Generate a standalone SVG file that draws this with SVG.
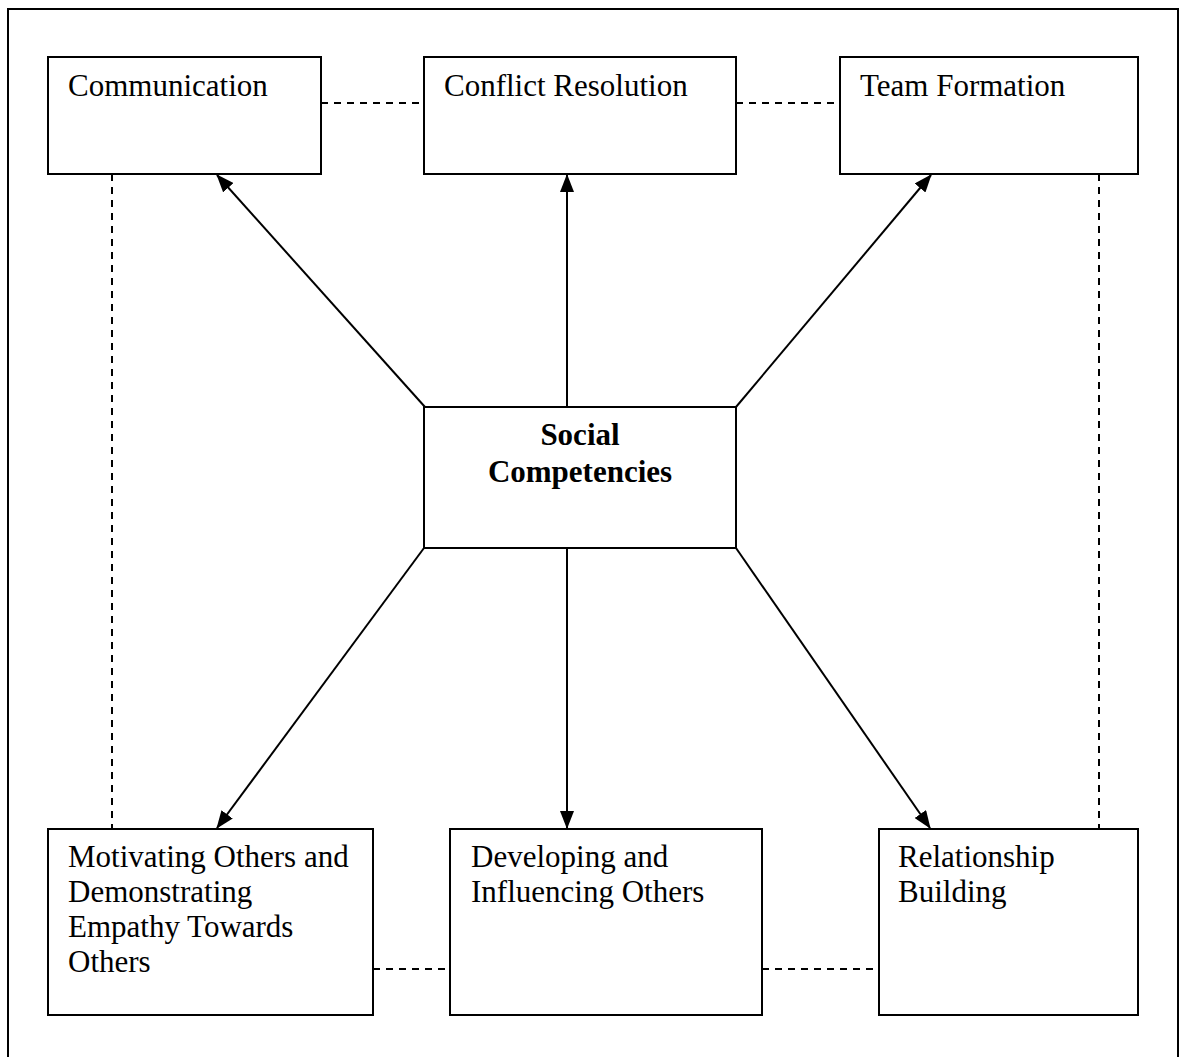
<svg xmlns="http://www.w3.org/2000/svg" width="1181" height="1057" viewBox="0 0 1181 1057">
  <style>
    .box { fill: #ffffff; stroke: #000000; stroke-width: 2; }
    .lbl { font-family: "Liberation Serif", "Times New Roman", serif; font-size: 31px; fill: #000000; }
    .bold { font-weight: bold; text-anchor: middle; }
    .arrow { stroke: #000000; stroke-width: 2; fill: none; marker-end: url(#head); }
    .dash { stroke: #000000; stroke-width: 2; fill: none; stroke-dasharray: 7 6; }
  </style>
  <defs>
    <marker id="head" markerUnits="userSpaceOnUse" markerWidth="18" markerHeight="14" refX="17" refY="7" orient="auto">
      <path d="M0,0 L18,7 L0,14 Z" fill="#000000"/>
    </marker>
  </defs>
  <rect width="1181" height="1057" fill="#ffffff"/>
  <!-- outer frame, open past the bottom edge -->
  <rect x="8" y="9" width="1170" height="1070" fill="none" stroke="#000000" stroke-width="2"/>

  <g id="connectors">
    <!-- dashed links between neighbouring boxes -->
    <line class="dash" x1="321" y1="103" x2="424" y2="103"/>
    <line class="dash" x1="736" y1="103" x2="840" y2="103"/>
    <line class="dash" x1="373" y1="969" x2="450" y2="969"/>
    <line class="dash" x1="762" y1="969" x2="879" y2="969"/>
    <line class="dash" x1="112" y1="174" x2="112" y2="829"/>
    <line class="dash" x1="1099" y1="174" x2="1099" y2="829"/>
    <!-- arrows from the centre box -->
    <line class="arrow" x1="425" y1="407" x2="217" y2="175"/>
    <line class="arrow" x1="567" y1="407" x2="567" y2="175"/>
    <line class="arrow" x1="736" y1="407" x2="931" y2="175"/>
    <line class="arrow" x1="424" y1="548" x2="217" y2="828"/>
    <line class="arrow" x1="567" y1="548" x2="567" y2="828"/>
    <line class="arrow" x1="736" y1="548" x2="930" y2="828"/>
  </g>

  <g id="communication">
    <rect class="box" x="48" y="57" width="273" height="117"/>
    <text class="lbl" x="68" y="96">Communication</text>
  </g>
  <g id="conflict-resolution">
    <rect class="box" x="424" y="57" width="312" height="117"/>
    <text class="lbl" x="444" y="96">Conflict Resolution</text>
  </g>
  <g id="team-formation">
    <rect class="box" x="840" y="57" width="298" height="117"/>
    <text class="lbl" x="860" y="96">Team Formation</text>
  </g>
  <g id="social-competencies">
    <rect class="box" x="424" y="407" width="312" height="141"/>
    <text class="lbl bold" x="580" y="445">Social</text>
    <text class="lbl bold" x="580" y="482">Competencies</text>
  </g>
  <g id="motivating-others">
    <rect class="box" x="48" y="829" width="325" height="186"/>
    <text class="lbl" x="68" y="867">Motivating Others and</text>
    <text class="lbl" x="68" y="902">Demonstrating</text>
    <text class="lbl" x="68" y="937">Empathy Towards</text>
    <text class="lbl" x="68" y="972">Others</text>
  </g>
  <g id="developing-influencing">
    <rect class="box" x="450" y="829" width="312" height="186"/>
    <text class="lbl" x="471" y="867">Developing and</text>
    <text class="lbl" x="471" y="902">Influencing Others</text>
  </g>
  <g id="relationship-building">
    <rect class="box" x="879" y="829" width="259" height="186"/>
    <text class="lbl" x="898" y="867">Relationship</text>
    <text class="lbl" x="898" y="902">Building</text>
  </g>
</svg>
